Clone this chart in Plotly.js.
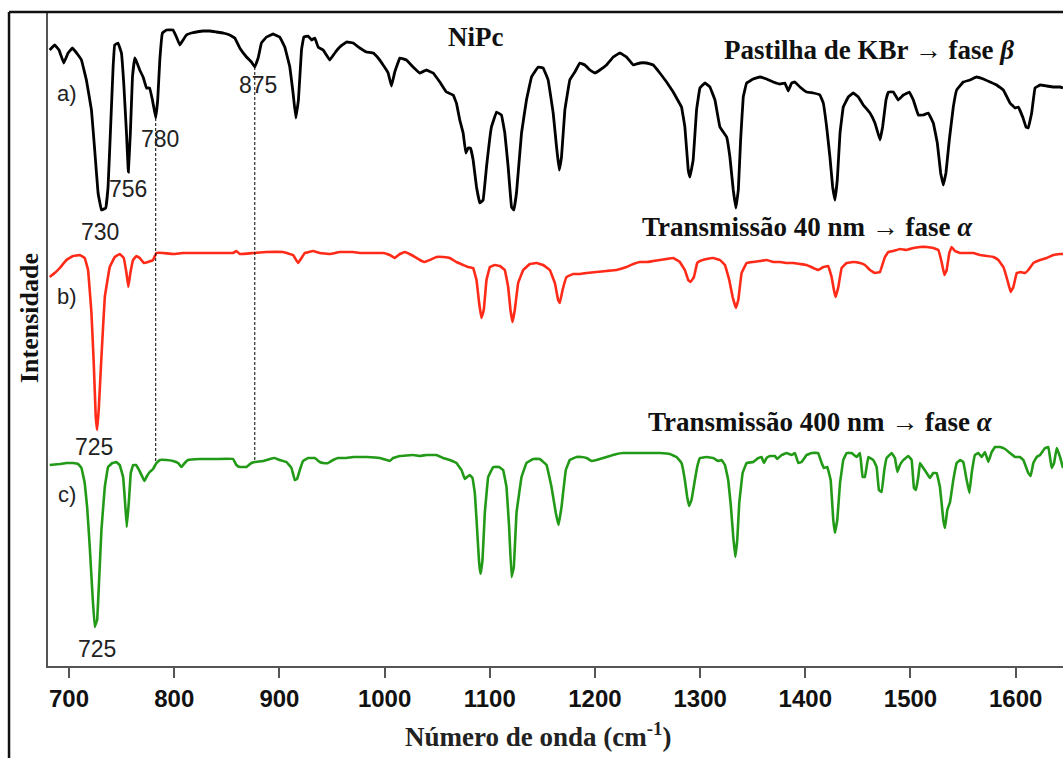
<!DOCTYPE html>
<html>
<head>
<meta charset="utf-8">
<script src="https://cdn.plot.ly/plotly-3.0.1.min.js"></script>
<style>html,body{margin:0;padding:0;background:#fff;}#chart{width:1063px;height:758px;}</style>
</head>
<body>
<div id="chart"></div>
<script>
// ---- Spectrum a) KBr pellet (beta phase), black ----
const waveA = [681.6,686.4,690.5,695.0,699.1,703.2,708.6,711.8,716.5,721.3,724.4,727.6,730.8,734.9,737.1,739.3,741.9,743.4,746.6,749.8,752.0,754.6,756.4,758.3,760.3,762.5,764.7,767.2,770.4,773.6,776.7,779.3,782.4,784.3,786.3,788.8,792.6,798.9,802.1,805.3,808.4,811.6,816.4,821.1,827.5,833.8,840.1,846.5,852.8,857.6,862.3,868.7,873.4,876.6,879.8,882.9,887.7,894.0,900.3,905.1,909.9,913.0,915.6,918.1,921.0,923.2,927.3,930.5,933.7,936.8,941.6,947.9,952.7,957.4,963.7,970.1,976.4,982.8,989.1,993.9,998.6,1003.4,1006.5,1009.7,1014.5,1020.8,1027.1,1033.5,1039.8,1046.2,1052.5,1058.8,1065.2,1068.3,1071.5,1074.7,1077.2,1079.4,1081.7,1084.2,1087.4,1090.5,1093.7,1096.9,1101.6,1106.4,1111.1,1114.3,1117.5,1120.7,1122.9,1125.4,1130.2,1134.9,1139.7,1146.0,1150.8,1155.5,1160.3,1163.5,1166.0,1168.2,1171.4,1176.1,1180.9,1185.6,1190.4,1195.2,1199.9,1204.7,1211.0,1217.4,1223.7,1230.0,1236.4,1242.7,1249.0,1255.4,1261.7,1268.1,1274.4,1277.6,1282.3,1285.5,1288.7,1290.3,1293.4,1296.6,1299.8,1304.6,1309.3,1314.1,1318.8,1325.2,1328.3,1331.5,1334.0,1336.3,1338.5,1341.0,1344.2,1350.5,1356.9,1363.2,1369.5,1375.9,1380.6,1383.8,1387.0,1390.1,1394.9,1401.2,1407.6,1413.9,1417.1,1420.3,1423.4,1426.0,1428.2,1430.4,1433.0,1436.1,1440.9,1445.6,1450.4,1455.1,1461.5,1466.2,1471.0,1473.5,1476.7,1478.9,1483.7,1488.4,1493.2,1498.9,1502.7,1507.4,1512.2,1517.0,1521.7,1525.5,1528.7,1531.2,1533.7,1536.9,1540.7,1543.9,1550.2,1556.6,1562.9,1569.3,1575.6,1581.9,1588.3,1594.6,1599.4,1602.5,1606.7,1609.8,1612.0,1615.2,1618.4,1623.2,1629.5,1635.8,1642.2,1645.0];
const intA = [6.16,6.21,6.16,6.03,6.13,6.18,6.11,6.06,5.86,5.56,5.16,4.73,4.56,4.58,4.79,5.33,5.99,6.21,6.23,6.13,5.83,5.33,4.94,5.33,5.89,6.08,6.03,5.96,5.89,5.78,5.78,5.66,5.48,5.66,6.06,6.33,6.36,6.36,6.29,6.21,6.26,6.31,6.33,6.34,6.35,6.35,6.34,6.33,6.31,6.28,6.18,6.09,6.04,5.99,6.08,6.23,6.29,6.32,6.29,6.19,5.99,5.73,5.48,5.66,6.16,6.29,6.30,6.26,6.28,6.19,6.16,6.06,6.13,6.19,6.24,6.23,6.18,6.14,6.13,6.08,6.01,5.93,5.80,5.94,6.08,6.06,5.99,5.93,5.96,5.93,5.84,5.74,5.71,5.63,5.46,5.33,5.13,5.18,5.18,5.06,4.79,4.63,4.66,4.99,5.39,5.54,5.51,5.33,4.99,4.59,4.56,4.73,5.33,5.66,5.89,5.99,5.98,5.86,5.53,5.19,4.96,5.09,5.56,5.86,5.94,6.03,6.01,5.96,5.93,5.96,6.01,6.09,6.13,6.09,6.01,6.03,6.03,6.01,5.93,5.84,5.74,5.68,5.59,5.39,4.96,4.89,5.06,5.56,5.78,5.83,5.79,5.66,5.39,5.29,5.09,4.76,4.58,4.76,5.26,5.69,5.83,5.87,5.89,5.87,5.84,5.82,5.83,5.75,5.83,5.84,5.79,5.74,5.73,5.71,5.63,5.39,5.09,4.79,4.66,4.86,5.33,5.59,5.69,5.73,5.69,5.61,5.53,5.43,5.26,5.39,5.66,5.74,5.74,5.66,5.71,5.74,5.66,5.51,5.51,5.53,5.43,5.23,4.93,4.81,4.93,5.26,5.59,5.76,5.84,5.86,5.89,5.87,5.84,5.81,5.76,5.63,5.58,5.59,5.49,5.39,5.38,5.53,5.78,5.81,5.80,5.79,5.79,5.78];

// ---- Spectrum b) transmission 40 nm (alpha phase), red ----
const waveB = [681.6,686.4,691.2,697.5,703.8,710.2,714.9,718.1,721.3,723.5,725.4,726.7,728.2,730.8,734.0,738.7,743.5,748.2,752.0,754.6,756.4,758.3,760.9,764.0,767.2,771.0,775.1,779.9,783.0,789.4,798.9,808.4,817.9,830.6,843.3,856.0,859.1,862.3,875.0,887.7,903.5,913.0,917.8,921.0,924.1,932.1,938.4,947.9,957.4,970.1,976.4,989.1,998.6,1005.0,1009.7,1014.5,1019.2,1025.6,1033.5,1038.2,1043.0,1049.3,1055.7,1062.0,1068.3,1074.7,1079.4,1084.2,1087.4,1089.9,1092.1,1094.3,1096.9,1100.1,1104.8,1109.6,1114.3,1117.5,1119.7,1121.6,1123.8,1127.0,1131.8,1138.1,1144.4,1150.8,1157.1,1161.9,1165.0,1166.6,1169.2,1173.0,1179.3,1185.6,1192.0,1201.5,1211.0,1220.5,1230.0,1236.4,1242.7,1249.0,1255.4,1261.7,1268.1,1274.4,1280.7,1285.5,1288.7,1290.9,1294.1,1297.2,1299.8,1306.1,1312.5,1318.8,1323.6,1327.7,1330.9,1334.0,1336.3,1339.4,1344.2,1350.5,1356.9,1363.2,1369.5,1375.9,1382.2,1388.6,1394.9,1401.2,1407.6,1412.3,1417.1,1421.8,1425.0,1427.2,1428.8,1431.4,1434.5,1439.3,1445.6,1452.0,1456.7,1461.5,1466.2,1471.0,1475.7,1478.9,1483.7,1490.0,1496.3,1502.7,1509.0,1515.4,1521.7,1526.5,1529.6,1532.2,1534.4,1536.9,1539.1,1542.3,1547.1,1553.4,1559.7,1566.1,1572.4,1578.8,1583.5,1588.3,1592.1,1595.2,1597.8,1601.0,1604.8,1608.9,1612.0,1616.8,1623.2,1629.5,1635.8,1642.2,1645.0];
const intB = [3.89,3.93,3.98,4.06,4.10,4.11,4.08,3.96,3.53,3.03,2.49,2.36,2.56,3.09,3.69,3.99,4.09,4.12,4.08,3.93,3.79,3.93,4.06,4.10,4.08,4.03,4.04,4.06,4.13,4.13,4.12,4.13,4.13,4.13,4.13,4.13,4.15,4.12,4.13,4.14,4.14,4.11,4.03,4.08,4.13,4.15,4.13,4.12,4.14,4.14,4.13,4.13,4.13,4.11,4.08,4.12,4.14,4.11,4.06,4.04,4.06,4.09,4.09,4.08,4.04,4.01,3.99,3.98,3.86,3.63,3.48,3.56,3.86,3.99,4.01,4.00,3.96,3.79,3.56,3.44,3.56,3.83,3.96,4.02,4.03,4.01,3.96,3.83,3.66,3.63,3.76,3.89,3.92,3.92,3.93,3.94,3.95,3.96,3.99,4.02,4.04,4.04,4.05,4.06,4.07,4.08,4.04,3.96,3.86,3.84,3.89,4.03,4.05,4.07,4.08,4.06,4.01,3.86,3.69,3.58,3.66,3.93,4.03,4.04,4.05,4.06,4.04,4.04,4.03,4.03,4.02,4.01,3.98,3.96,3.99,4.00,3.89,3.76,3.69,3.79,3.98,4.03,4.04,4.03,4.01,3.96,3.93,3.94,4.09,4.14,4.15,4.17,4.16,4.18,4.19,4.19,4.18,4.16,4.04,3.91,3.96,4.13,4.19,4.15,4.13,4.13,4.13,4.11,4.10,4.09,4.06,3.99,3.86,3.74,3.79,3.93,3.94,3.93,3.96,4.03,4.06,4.08,4.11,4.12,4.12];

// ---- Spectrum c) transmission 400 nm (alpha phase), green ----
const waveC = [681.6,691.2,697.5,701.3,703.8,708.6,711.8,714.9,717.2,719.7,722.2,724.4,726.7,728.6,730.8,734.0,737.1,741.2,745.0,748.2,751.4,753.3,754.9,756.8,758.7,760.9,763.5,766.6,769.8,771.7,773.6,776.7,779.9,783.1,786.3,792.6,798.9,803.7,806.9,810.0,813.2,824.3,840.1,856.0,859.1,862.3,868.7,873.4,876.6,884.5,890.9,895.6,900.4,906.7,911.5,914.6,916.8,919.4,922.5,927.3,933.6,938.4,941.6,946.3,951.1,955.8,963.8,970.1,982.8,995.4,1005.0,1008.1,1014.5,1027.1,1033.5,1039.8,1049.3,1055.7,1062.0,1068.3,1073.1,1076.3,1078.5,1081.0,1083.6,1085.8,1088.0,1089.9,1091.2,1093.1,1095.3,1098.5,1103.2,1108.9,1112.7,1115.9,1118.4,1120.7,1122.9,1125.4,1130.2,1134.9,1141.3,1147.6,1154.0,1158.7,1162.8,1165.4,1168.2,1172.3,1176.1,1182.5,1187.2,1192.0,1196.7,1201.5,1207.8,1214.2,1220.5,1226.9,1236.4,1249.0,1261.7,1271.2,1277.6,1282.3,1285.5,1287.7,1289.6,1291.8,1295.0,1297.2,1299.8,1306.1,1312.5,1317.2,1320.4,1323.6,1326.7,1329.3,1331.5,1333.4,1335.3,1337.2,1340.4,1344.2,1350.5,1355.3,1358.4,1360.7,1363.2,1366.4,1371.1,1373.3,1377.5,1382.2,1387.0,1390.1,1393.3,1396.5,1401.2,1406.0,1412.3,1415.5,1417.7,1420.9,1424.1,1426.6,1428.2,1430.4,1433.0,1436.1,1439.3,1444.0,1448.8,1452.0,1454.5,1456.7,1459.9,1464.6,1467.8,1470.0,1472.6,1475.1,1477.3,1482.1,1485.2,1487.5,1490.0,1493.2,1497.9,1501.1,1503.3,1505.2,1507.4,1509.0,1512.2,1515.4,1518.5,1521.7,1524.9,1528.0,1531.2,1532.8,1535.0,1537.6,1540.7,1543.9,1547.1,1550.2,1553.4,1556.0,1558.2,1561.3,1564.5,1567.7,1570.8,1574.0,1577.2,1580.4,1585.1,1589.9,1594.6,1599.4,1604.1,1607.3,1612.0,1614.3,1616.8,1620.0,1623.2,1627.9,1631.1,1634.2,1636.5,1639.0,1642.2,1645.0];
const intC = [2.01,2.02,2.03,2.03,2.03,2.02,1.98,1.83,1.59,1.19,0.73,0.39,0.46,0.86,1.36,1.79,1.99,2.03,2.04,2.01,1.89,1.63,1.39,1.63,1.93,2.01,2.01,1.96,1.89,1.85,1.89,1.94,1.97,2.03,2.06,2.06,2.05,2.03,1.99,2.03,2.06,2.07,2.07,2.07,2.01,1.99,1.99,2.03,2.04,2.05,2.07,2.08,2.06,2.04,1.98,1.86,1.87,1.96,2.05,2.08,2.08,2.04,2.03,2.03,2.06,2.08,2.08,2.09,2.09,2.08,2.05,2.08,2.10,2.11,2.10,2.11,2.11,2.08,2.06,2.03,1.96,1.87,1.89,1.91,1.88,1.73,1.36,1.03,0.92,1.06,1.53,1.89,1.99,1.99,1.96,1.79,1.39,0.89,0.99,1.53,1.89,2.03,2.07,2.07,2.01,1.79,1.53,1.41,1.59,1.96,2.06,2.09,2.09,2.08,2.05,2.06,2.08,2.10,2.12,2.13,2.13,2.13,2.13,2.12,2.09,2.03,1.86,1.69,1.60,1.66,1.86,1.99,2.08,2.09,2.08,2.05,2.06,2.01,1.86,1.59,1.29,1.09,1.26,1.63,1.93,2.03,2.04,2.08,2.09,2.03,2.08,2.10,2.10,2.07,2.11,2.13,2.11,2.13,2.03,2.04,2.11,2.13,2.13,2.03,1.98,1.99,1.86,1.46,1.33,1.46,1.83,2.06,2.13,2.13,2.09,2.13,1.89,1.89,2.09,2.06,1.99,1.76,1.74,1.96,2.08,2.13,2.08,1.94,2.01,2.06,2.10,2.06,1.78,1.76,1.89,2.03,1.98,1.93,1.88,1.93,1.93,1.79,1.46,1.38,1.56,1.64,1.86,2.03,2.06,2.04,1.86,1.73,1.93,2.11,2.13,2.09,2.14,2.04,2.14,2.19,2.19,2.17,2.13,2.09,2.09,2.06,1.93,1.90,2.03,2.09,2.11,2.18,2.19,1.98,2.03,2.18,2.09,1.98];

// ---- Dashed guide lines at the beta-phase bands (cm-1) ----
const guideWave = [782.4, 876.6];
const guideTop = [5.48, 5.99];
const guideBottom = [2.04, 2.04];

// ---- Band labels ----
const bandText = ["730", "756", "780", "875", "725", "725"];
const bandWave = [729.2, 755.9, 786.3, 879.5, 723.6, 726.4];
const bandInt = [4.34, 4.77, 5.27, 5.81, 2.19, 0.17];

// ---- Tick labels ----
const tickWave = [700, 800, 900, 1000, 1100, 1200, 1300, 1400, 1500, 1600];

const sans = "Liberation Sans, Arial, sans-serif";
const serif = "Liberation Serif, Times New Roman, serif";

const traces = [
  {x: waveA, y: intA, mode: "lines", line: {color: "#000000", width: 2.8, shape: "spline", smoothing: 0.15}, hoverinfo: "skip", showlegend: false},
  {x: waveB, y: intB, mode: "lines", line: {color: "#ff2a17", width: 2.6, shape: "spline", smoothing: 0.15}, hoverinfo: "skip", showlegend: false},
  {x: waveC, y: intC, mode: "lines", line: {color: "#229a18", width: 2.6, shape: "spline", smoothing: 0.15}, hoverinfo: "skip", showlegend: false}
];
guideWave.forEach((w, i) => {
  traces.push({x: [w, w], y: [guideTop[i], guideBottom[i]], mode: "lines",
    line: {color: "#000000", width: 1, dash: "3px,2px"}, hoverinfo: "skip", showlegend: false});
});

const annotations = bandText.map((t, i) => ({
  x: bandWave[i], y: bandInt[i], xref: "x", yref: "y", text: t, showarrow: false,
  font: {family: sans, size: 23, color: "#222"}
}));
const panelLabels = [
  {t: "a)", y: 5.73}, {t: "b)", y: 3.70}, {t: "c)", y: 1.72}
];
panelLabels.forEach(p => annotations.push({
  x: 697.8, y: p.y, xref: "x", yref: "y", text: p.t, showarrow: false,
  font: {family: sans, size: 22, color: "#222"}
}));
const headers = [
  {t: "<b>NiPc</b>", x: 1086, y: 6.29},
  {t: "<b>Pastilha de KBr → fase <i>β</i></b>", x: 1461, y: 6.16},
  {t: "<b>Transmissão 40 nm → fase <i>α</i></b>", x: 1402, y: 4.39},
  {t: "<b>Transmissão 400 nm → fase <i>α</i></b>", x: 1414, y: 2.44}
];
headers.forEach(h => annotations.push({
  x: h.x, y: h.y, xref: "x", yref: "y", text: h.t, showarrow: false,
  font: {family: serif, size: 27, color: "#111"}
}));
// axis titles (placed where the reference puts them)
annotations.push({
  x: 0.4828, y: -0.1055, xref: "paper", yref: "paper", text: "<b>Número de onda (cm<sup>-1</sup>)</b>",
  showarrow: false, xanchor: "center", yanchor: "middle",
  font: {family: serif, size: 27, color: "#222"}
});
annotations.push({
  x: -0.0187, y: 0.532, xref: "paper", yref: "paper", text: "<b>Intensidade</b>",
  showarrow: false, textangle: -90, xanchor: "center", yanchor: "middle",
  font: {family: serif, size: 26, color: "#111"}
});

const layout = {
  width: 1063, height: 758,
  margin: {l: 48, r: 0, t: 12, b: 92, pad: 0},
  paper_bgcolor: "#ffffff", plot_bgcolor: "#ffffff",
  showlegend: false,
  xaxis: {
    range: [680, 1645], tickvals: tickWave, ticktext: tickWave.map(String),
    ticks: "outside", ticklen: 10, tickwidth: 2, tickcolor: "#555",
    showline: true, linecolor: "#555", linewidth: 2,
    showgrid: false, zeroline: false,
    tickfont: {family: sans, size: 24, color: "#111", weight: "bold"}
  },
  yaxis: {
    range: [0, 6.54], showticklabels: false, ticks: "",
    showline: true, linecolor: "#555", linewidth: 2,
    showgrid: false, zeroline: false
  },
  annotations: annotations,
  shapes: [
    {type: "line", xref: "paper", yref: "paper", x0: -0.0384, x1: 1.02, y0: 1, y1: 1, line: {color: "#111", width: 2.5}},
    {type: "line", xref: "paper", yref: "paper", x0: -0.0384, x1: -0.0384, y0: 1, y1: -0.2, line: {color: "#111", width: 2.5}}
  ]
};

Plotly.newPlot("chart", traces, layout, {displayModeBar: false, staticPlot: true});
</script>
</body>
</html>
